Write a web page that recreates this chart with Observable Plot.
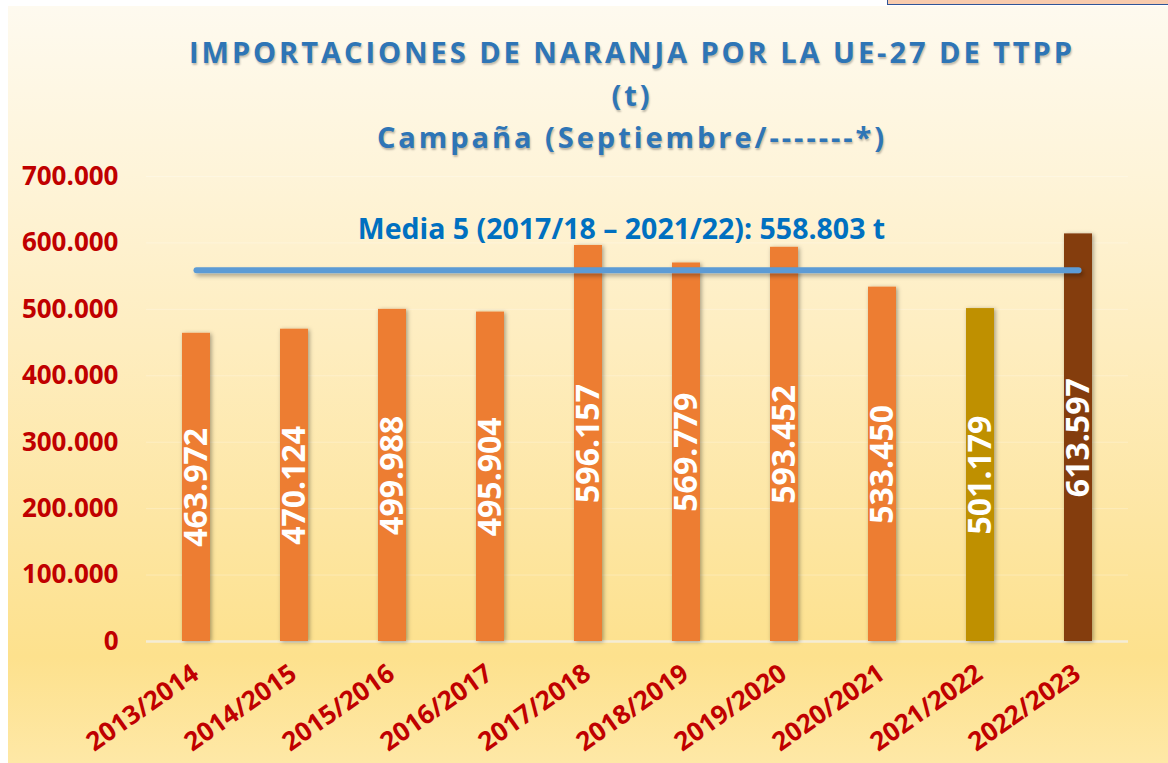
<!DOCTYPE html>
<html><head><meta charset="utf-8">
<script src="https://cdn.jsdelivr.net/npm/d3@7"></script>
<script src="https://cdn.jsdelivr.net/npm/@observablehq/plot@0.6"></script>
<style>
body{margin:0;background:#fff;}
#page{position:relative;width:1168px;height:763px;overflow:hidden;background:#fff;font-family:"Open Sans",sans-serif;}
#bg{position:absolute;left:8px;top:6px;right:0;bottom:0;background:linear-gradient(to bottom,#fefaef 0%,#fef4d9 22%,#feedbf 45%,#fde6a3 68%,#fde18d 86%,#fee8a6 100%);}
#box{position:absolute;left:887px;top:-3px;width:285px;height:6px;background:#f8cbad;border:1.5px solid #2f5597;}
.t{position:absolute;left:0;width:1264px;text-align:center;color:#2e75b6;font-weight:700;text-shadow:1px 2px 2px rgba(0,0,0,0.25);white-space:nowrap;line-height:1;}
.t span{display:inline-block;}
#chart{position:absolute;left:0;top:0;}
</style></head>
<body>
<div id="page">
  <div id="bg"></div>
  <div id="box"></div>
  <div id="chart"></div>
  <div class="t" id="t1" style="top:37px"><span>IMPORTACIONES DE NARANJA POR LA UE-27 DE TTPP</span></div>
  <div class="t" id="t2" style="top:80px"><span>(t)</span></div>
  <div class="t" id="t3" style="top:122px"><span>Campaña (Septiembre/-------*)</span></div>
</div>
<script>
// ---- data ----
const categories = ["2013/2014","2014/2015","2015/2016","2016/2017","2017/2018","2018/2019","2019/2020","2020/2021","2021/2022","2022/2023"];
const values = [463972, 470124, 499988, 495904, 596157, 569779, 593452, 533450, 501179, 613597];
const yTicks = [0, 100000, 200000, 300000, 400000, 500000, 600000, 700000];
const meanValue = 558803;
const meanLabel = "Media 5 (2017/18 – 2021/22): 558.803 t";

// ---- styles ----
const barPalette = ["#ed7d31","#ed7d31","#ed7d31","#ed7d31","#ed7d31","#ed7d31","#ed7d31","#ed7d31","#bf9000","#843c0c"];
const red = "#c00000";

const data = categories.map((c, i) => ({category: c, value: values[i]}));
const meanPts = [{category: categories[0], value: meanValue}, {category: categories[categories.length - 1], value: meanValue}];
const fmt = d => d3.format(",")(d).replace(/,/g, ".");

const chart = Plot.plot({
  width: 1168, height: 763,
  marginTop: 176, marginBottom: 122, marginLeft: 146, marginRight: 40,
  style: {background: "transparent", fontFamily: "'Open Sans', sans-serif", overflow: "visible"},
  x: {domain: categories, paddingInner: 0.715, paddingOuter: 0.3575, axis: null},
  y: {domain: [0, 700000], axis: null},
  color: {domain: categories, range: barPalette},
  marks: [
    Plot.ruleY(yTicks.slice(1), {stroke: "#ffffff", strokeOpacity: 0.25, strokeWidth: 1}),
    Plot.ruleY([0], {stroke: "#f4ecd6", strokeWidth: 2.5}),
    Plot.barY(data, {x: "category", y: "value", fill: "category"}),
    Plot.text(data, {x: "category", y: d => d.value / 2, text: d => fmt(d.value), rotate: -90, fill: "white", fontSize: 32, fontWeight: 700}),
    Plot.line(meanPts, {x: "category", y: "value", stroke: "#5b9bd5", strokeWidth: 6, strokeLinecap: "round"}),
    Plot.text([meanLabel], {x: () => categories[4], y: () => meanValue, text: d => d, dx: 33, dy: -40, fill: "#0070c0", fontSize: 28.5, fontWeight: 700}),
    Plot.text(yTicks, {y: d => d, text: d => fmt(d), frameAnchor: "left", textAnchor: "end", dx: -28, fill: red, fontSize: 26, fontWeight: 700}),
    Plot.text(categories, {x: d => d, text: d => d, frameAnchor: "bottom", rotate: -35, textAnchor: "end", dx: 4, dy: 36, fill: red, fontSize: 26, fontWeight: 700})
  ]
});
document.getElementById("chart").appendChild(chart);

// shadows
const ns = "http://www.w3.org/2000/svg";
const defs = document.createElementNS(ns, "defs");
defs.innerHTML = '<filter id="sh" x="-50%" y="-10%" width="200%" height="130%"><feDropShadow dx="1.5" dy="1" stdDeviation="2" flood-color="#000" flood-opacity="0.35"/></filter>' +
  '<filter id="sh2" filterUnits="userSpaceOnUse" x="0" y="0" width="1168" height="763"><feDropShadow dx="2" dy="3" stdDeviation="2" flood-color="#000" flood-opacity="0.3"/></filter>';
chart.insertBefore(defs, chart.firstChild);
const bars = chart.querySelector('g[aria-label="bar"]');
if (bars) bars.setAttribute("filter", "url(#sh)");
const ln = chart.querySelector('g[aria-label="line"]');
if (ln) ln.setAttribute("filter", "url(#sh2)");

// title fitting: fixed size, letter spacing fitted to the first line's width
function fitTitle() {
  const f = 29;
  const spans = ["t1","t2","t3"].map(id => document.querySelector("#" + id + " span"));
  spans.forEach(s => { s.style.fontSize = f + "px"; s.style.letterSpacing = "0px"; });
  const w1 = spans[0].getBoundingClientRect().width;
  let ls = Math.max(0, Math.min(6, (883 - w1) / 44));
  spans.forEach(sp => { sp.style.letterSpacing = ls.toFixed(2) + "px"; });
}
fitTitle();
</script>
</body></html>
